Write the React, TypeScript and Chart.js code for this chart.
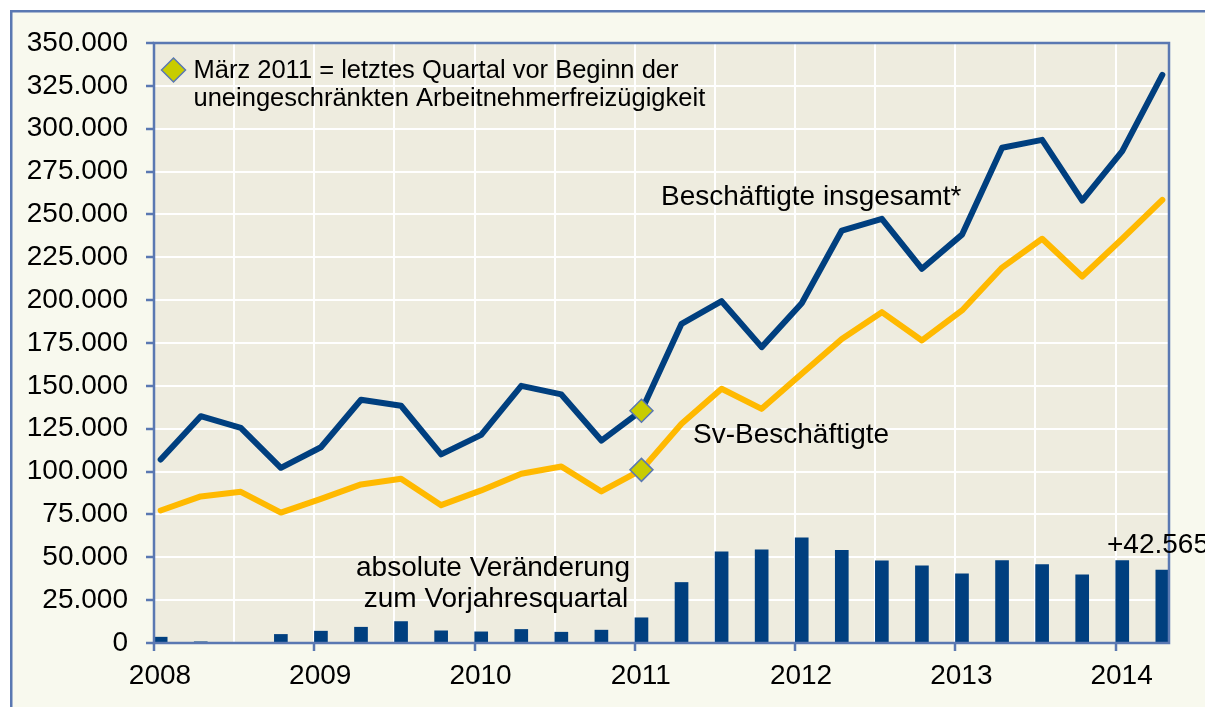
import React, { useEffect, useRef } from 'react';
import { Chart, registerables } from 'chart.js';

Chart.register(...registerables);

// ---------- data ----------
const quarters = [
  '2008 Q1', '2008 Q2', '2008 Q3', '2008 Q4',
  '2009 Q1', '2009 Q2', '2009 Q3', '2009 Q4',
  '2010 Q1', '2010 Q2', '2010 Q3', '2010 Q4',
  '2011 Q1', '2011 Q2', '2011 Q3', '2011 Q4',
  '2012 Q1', '2012 Q2', '2012 Q3', '2012 Q4',
  '2013 Q1', '2013 Q2', '2013 Q3', '2013 Q4',
  '2014 Q1', '2014 Q2',
];

const beschaeftigteInsgesamt = [
  107000, 132300, 125500, 102200, 114200, 141900, 138400, 110000,
  121400, 150000, 145000, 118100, 135500, 186200, 199400, 172600,
  198200, 240600, 247400, 218300, 238200, 288900, 293500, 258100,
  286900, 331400,
];

const svBeschaeftigte = [
  77300, 85500, 88200, 76100, 84100, 92500, 95800, 80400,
  89000, 98700, 103000, 88400, 101000, 127900, 148300, 136600,
  157000, 177400, 193000, 176500, 194000, 219000, 235800, 213800,
  235800, 258500,
];

const veraenderungVorjahr = [
  3400, 700, 0, 5000, 6900, 9200, 12500, 7100,
  6500, 7900, 6300, 7500, 14700, 35300, 53200, 54400,
  61400, 54100, 47900, 45000, 40400, 48100, 45800, 39800,
  48100, 42565,
];

const markerIndex = quarters.indexOf('2011 Q1'); // März 2011

const yearLabels = ['2008', '2009', '2010', '2011', '2012', '2013', '2014'];
const yTickValues = [0, 25000, 50000, 75000, 100000, 125000, 150000, 175000, 200000, 225000, 250000, 275000, 300000, 325000, 350000];

const legendLines = ['März 2011 = letztes Quartal vor Beginn der', 'uneingeschränkten Arbeitnehmerfreizügigkeit'];
const labelInsgesamt = 'Beschäftigte insgesamt*';
const labelSv = 'Sv-Beschäftigte';
const labelBars = ['absolute Veränderung', 'zum Vorjahresquartal'];
const labelLast = '+42.565';

// ---------- style ----------
const W = 1205;
const H = 707;
const FONT = "'Liberation Sans', Arial, sans-serif";
const OUTER_BG = '#F8F9EE';
const PLOT_BG = '#EEECDF';
const FRAME = '#5A78B2';
const DARK_BLUE = '#003F7F';
const ORANGE = '#FFB900';
const MARKER = '#C8CC00';

// x position: year + quarter, centred in the first month of the quarter
const firstYear = parseInt(yearLabels[0], 10);
const xOf = (i: number) => firstYear + i / 4 + 1 / 24;

const formatDE = (v: number) => {
  if (v === 0) return '0';
  const s = String(Math.round(v));
  return s.replace(/\B(?=(\d{3})+(?!\d))/g, '.');
};

const framePlugin = {
  id: 'framePlugin',
  beforeDraw(chart: any) {
    const { ctx, chartArea: a } = chart;
    ctx.save();
    ctx.fillStyle = '#ffffff';
    ctx.fillRect(0, 0, W, H);
    ctx.fillStyle = OUTER_BG;
    ctx.fillRect(10, 10, W, H);
    ctx.strokeStyle = FRAME;
    ctx.lineWidth = 2.5;
    ctx.strokeRect(11.25, 11.25, W + 100, H + 100);
    ctx.fillStyle = PLOT_BG;
    ctx.fillRect(a.left, a.top, a.right - a.left, a.bottom - a.top);
    ctx.restore();
  },
  afterDatasetsDraw(chart: any) {
    const { ctx, chartArea: a } = chart;
    ctx.save();
    ctx.strokeStyle = FRAME;
    ctx.lineWidth = 2.5;
    ctx.strokeRect(a.left, a.top, a.right - a.left, a.bottom - a.top);
    ctx.restore();
  },
  afterDraw(chart: any) {
    const { ctx } = chart;
    ctx.save();
    // legend diamond
    const cx = 173.5, cy = 70, r = 12;
    ctx.beginPath();
    ctx.moveTo(cx - r, cy);
    ctx.lineTo(cx, cy - r);
    ctx.lineTo(cx + r, cy);
    ctx.lineTo(cx, cy + r);
    ctx.closePath();
    ctx.fillStyle = MARKER;
    ctx.fill();
    ctx.strokeStyle = FRAME;
    ctx.lineWidth = 1.5;
    ctx.stroke();

    ctx.fillStyle = '#000000';
    ctx.textBaseline = 'alphabetic';
    ctx.textAlign = 'left';
    ctx.font = `25.5px ${FONT}`;
    ctx.fillText(legendLines[0], 193.5, 78);
    ctx.fillText(legendLines[1], 193.5, 106);

    ctx.font = `28px ${FONT}`;
    ctx.fillText(labelInsgesamt, 661, 205);
    ctx.fillText(labelSv, 693, 443);
    ctx.fillText(labelLast, 1107, 553);

    ctx.textAlign = 'center';
    ctx.fillText(labelBars[0], 493, 576);
    ctx.fillText(labelBars[1], 496, 607);
    ctx.restore();
  },
};

export default function App() {
  const ref = useRef<HTMLCanvasElement | null>(null);

  useEffect(() => {
    if (!ref.current) return;
    Chart.defaults.font.family = FONT;
    const markerRadius = (ctx: any) => (ctx.dataIndex === markerIndex ? 11.5 : 0);

    const halfYearTicks: number[] = [];
    yearLabels.forEach((y) => {
      const v = parseInt(y, 10);
      halfYearTicks.push(v);
      halfYearTicks.push(v + 0.5);
    });
    const xMax = firstYear + 76 / 12;

    const chart = new Chart(ref.current, {
      type: 'bar',
      data: {
        datasets: [
          {
            type: 'line',
            label: labelInsgesamt,
            data: beschaeftigteInsgesamt.map((v, i) => ({ x: xOf(i), y: v })),
            borderColor: DARK_BLUE,
            borderWidth: 6,
            tension: 0,
            borderJoinStyle: 'round',
            borderCapStyle: 'round',
            pointStyle: 'rectRot',
            pointRadius: markerRadius,
            pointBackgroundColor: MARKER,
            pointBorderColor: FRAME,
            pointBorderWidth: 1.5,
            order: 1,
          } as any,
          {
            type: 'line',
            label: labelSv,
            data: svBeschaeftigte.map((v, i) => ({ x: xOf(i), y: v })),
            borderColor: ORANGE,
            borderWidth: 6,
            tension: 0,
            borderJoinStyle: 'round',
            borderCapStyle: 'round',
            pointStyle: 'rectRot',
            pointRadius: markerRadius,
            pointBackgroundColor: MARKER,
            pointBorderColor: FRAME,
            pointBorderWidth: 1.5,
            order: 2,
          } as any,
          {
            type: 'bar',
            label: labelBars.join(' '),
            data: veraenderungVorjahr.map((v, i) => ({ x: xOf(i), y: v })),
            backgroundColor: DARK_BLUE,
            barThickness: 13,
            order: 3,
          } as any,
        ],
      },
      options: {
        responsive: false,
        animation: false,
        events: [],
        layout: { padding: { top: 43, right: 36, left: 0, bottom: 0 } },
        plugins: {
          legend: { display: false },
          tooltip: { enabled: false },
          title: { display: false },
        },
        scales: {
          x: {
            type: 'linear',
            min: firstYear,
            max: xMax,
            offset: false,
            afterFit: (s: any) => { s.height = 64; },
            afterBuildTicks: (s: any) => {
              s.ticks = halfYearTicks.filter((v) => v <= xMax).map((v) => ({ value: v }));
            },
            border: { display: false },
            grid: {
              color: '#ffffff',
              lineWidth: 2,
              offset: false,
              drawTicks: true,
              tickLength: 8,
              tickWidth: 2.5,
              tickColor: (c: any) => (c.tick && Number.isInteger(c.tick.value) ? FRAME : 'rgba(0,0,0,0)'),
            },
            ticks: {
              autoSkip: false,
              maxRotation: 0,
              minRotation: 0,
              padding: 8,
              labelOffset: 6,
              color: '#000000',
              font: { size: 28, family: FONT },
              callback: (v: any) => {
                const n = Number(v);
                if (!Number.isInteger(n)) return '';
                const idx = n - firstYear;
                return yearLabels[idx] ?? '';
              },
            },
          },
          y: {
            type: 'linear',
            min: 0,
            max: 350000,
            afterFit: (s: any) => { s.width = 154; },
            afterBuildTicks: (s: any) => {
              s.ticks = yTickValues.map((v) => ({ value: v }));
            },
            border: { display: false },
            grid: {
              color: '#ffffff',
              lineWidth: 2,
              drawTicks: true,
              tickLength: 8,
              tickWidth: 2.5,
              tickColor: FRAME,
            },
            ticks: {
              padding: 18,
              color: '#000000',
              font: { size: 28, family: FONT },
              callback: (v: any) => formatDE(Number(v)),
            },
          },
        },
      } as any,
      plugins: [framePlugin],
    });
    return () => chart.destroy();
  }, []);

  return (
    <div style={{ position: 'fixed', left: 0, top: 0, width: W, height: H, overflow: 'hidden' }}>
      <canvas ref={ref} width={W} height={H} style={{ width: W, height: H, display: 'block' }} />
    </div>
  );
}
